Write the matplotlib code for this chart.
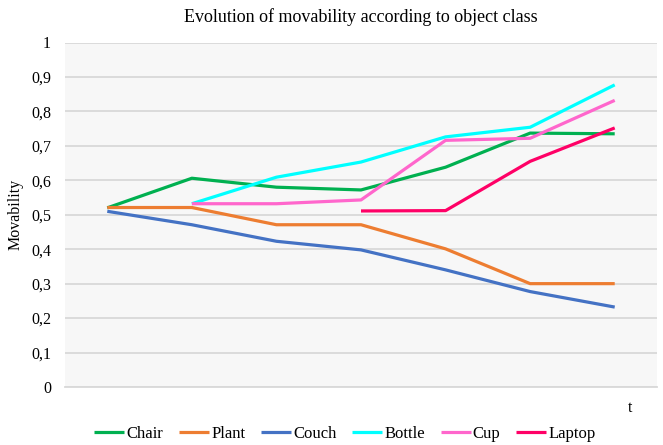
import matplotlib
matplotlib.use("Agg")
import matplotlib.pyplot as plt
from matplotlib.ticker import FuncFormatter
import numpy as np

nan = np.nan
steps = [1, 2, 3, 4, 5, 6, 7]
chair = [0.52, 0.606, 0.580, 0.572, 0.638, 0.737, 0.735]
plant = [0.521, 0.521, 0.471, 0.471, 0.401, 0.300, 0.300]
couch = [0.510, 0.471, 0.423, 0.398, 0.340, 0.277, 0.232]
bottle = [nan, 0.532, 0.609, 0.653, 0.726, 0.754, 0.877]
cup = [nan, 0.532, 0.532, 0.543, 0.716, 0.722, 0.832]
laptop = [nan, nan, nan, 0.511, 0.512, 0.655, 0.752]

names = ["Chair", "Plant", "Couch", "Bottle", "Cup", "Laptop"]
series = [chair, plant, couch, bottle, cup, laptop]
colors = ["#00b050", "#ed7d31", "#4472c4", "#00ffff", "#ff66cc", "#ff0066"]

plt.rcParams['font.family'] = ['Liberation Serif', 'DejaVu Serif']

fig = plt.figure(figsize=(6.63, 4.45), dpi=100)
ax = fig.add_axes([65/663, 1-387/445, 592/663, (387-42.5)/445])
ax.set_facecolor("#f7f7f7")

for name, vals, c in zip(names, series, colors):
    ax.plot(steps, vals, color=c, lw=2.3, label=name, solid_capstyle='butt')

ax.set_xlim(0.5, 7.5)
ax.set_ylim(0, 1)
ax.set_yticks(np.arange(0, 1.01, 0.1))
ax.yaxis.set_major_formatter(FuncFormatter(lambda v, p: "0" if v == 0 else ("1" if abs(v-1) < 1e-9 else f"{v:.1f}".replace(".", ","))))
ax.set_xticks([])
ax.grid(axis='y', color="#d9d9d9", lw=1.3)
ax.set_axisbelow(True)
for s in ["top", "right", "left"]:
    ax.spines[s].set_visible(False)
ax.spines["bottom"].set_color("#d9d9d9")
ax.spines["bottom"].set_linewidth(1.3)
ax.tick_params(axis='y', length=0, pad=10, labelsize=11.5)

ax.set_ylabel("Movability", fontsize=11.5)
ax.yaxis.set_label_coords(-0.07, 0.5)
ax.set_title("Evolution of movability according to object class", fontsize=13, pad=15)
fig.text(630/663, 1-408/445, "t", fontsize=11.5, ha='center', va='center')

fig.legend(loc='center', bbox_to_anchor=(345/663, 1-434/445), ncol=6, frameon=False,
           fontsize=12, handlelength=1.8, handletextpad=0.12, columnspacing=0.95)

fig.savefig("out.png", dpi=100)
